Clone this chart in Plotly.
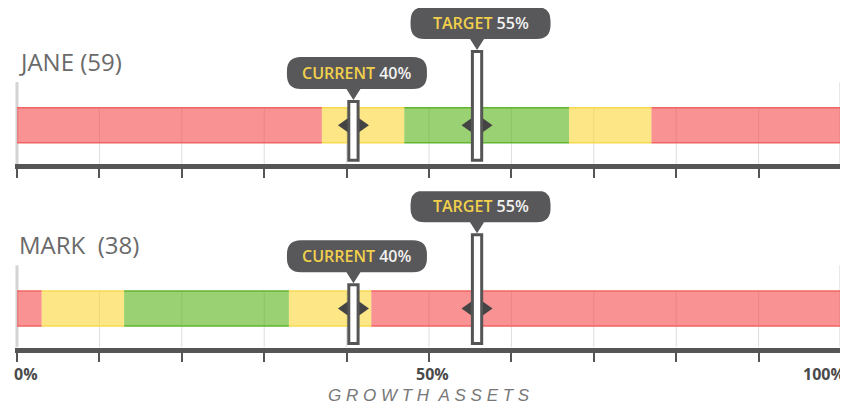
import plotly.graph_objects as go

# ---------------- data ----------------
people = ["JANE (59)", "MARK\u00a0\u00a0(38)"]
jane_bounds = [0, 37, 47, 67, 77, 100]
jane_zones = ["red", "yellow", "green", "yellow", "red"]
mark_bounds = [0, 3, 13, 33, 43, 100]
mark_zones = ["red", "yellow", "green", "yellow", "red"]
zone_bounds = [jane_bounds, mark_bounds]
zone_kinds = [jane_zones, mark_zones]
current_values = [40, 40]
target_values = [55, 55]
grid_ticks = [0, 10, 20, 30, 40, 50, 60, 70, 80, 90, 100]
label_ticks = [0, 50, 100]
label_texts = ["0%", "50%", "100%"]
axis_title = "GROWTH ASSETS"

# ---------------- styles ----------------
OFF = 8                          # page body margin
W, H = 848 - OFF, 407 - OFF
ML, MR = 7, 5
PAD = 0.243                      # x-range padding (%)
PXX = (W - ML - MR) / (100 + 2 * PAD)   # px per %
BAR_C = 125.2                    # screen px of first bar centre
PANEL_BOTTOMS = [164.3 - OFF, 347.6 - OFF]
PANEL_H = PANEL_BOTTOMS[0]
Y_RANGE = [-(164.3 - BAR_C), BAR_C - OFF]
BAR_H = 35

fills = {"red": "rgba(245,73,73,0.6)", "yellow": "rgba(250,213,53,0.6)",
         "green": "rgba(87,178,22,0.6)"}
edges = {"red": "#f06464", "yellow": "#f8da50", "green": "#62b530"}
DARK = "#555555"
FONT = "Open Sans"


def dom(i):
    bot = PANEL_BOTTOMS[i]
    return [1 - bot / H, 1 - (bot - PANEL_H) / H]


def xs(v, dpx):
    return v + dpx / PXX


fig = go.Figure()
shapes = []
annotations = []

for i in range(2):
    xr = "x" if i == 0 else "x2"
    yr = "y" if i == 0 else "y2"
    b = zone_bounds[i]
    k = zone_kinds[i]
    for s in range(len(k)):
        fig.add_trace(go.Bar(
            y=[0], x=[b[s + 1] - b[s]], base=[b[s]], orientation="h",
            width=BAR_H, marker=dict(color=fills[k[s]], line=dict(width=0)),
            xaxis=xr, yaxis=yr, showlegend=False, hoverinfo="skip"))
        for yy in (BAR_H / 2, -BAR_H / 2):
            shapes.append(dict(type="line", xref=xr, yref=yr, x0=b[s], x1=b[s + 1],
                               y0=yy, y1=yy, line=dict(color=edges[k[s]], width=1.5),
                               layer="above"))
    for t in grid_ticks:
        if t in (0, 100):
            shapes.append(dict(type="line", xref=xr, yref=yr, x0=t, x1=t,
                               y0=Y_RANGE[0], y1=43.2,
                               line=dict(color="#d4d4d4", width=3), layer="below"))
        else:
            shapes.append(dict(type="line", xref=xr, yref=yr, x0=t, x1=t,
                               y0=Y_RANGE[0], y1=BAR_H / 2,
                               line=dict(color="#dddddd", width=1), layer="below"))
    annotations.append(dict(xref=xr, yref=yr, x=0, y=BAR_C - 61, xanchor="left",
                            yanchor="middle", text=people[i], showarrow=False,
                            font=dict(family=FONT, size=24, color="#6a6a6a")))
    for v, name, top_px in ((current_values[i], "CURRENT", 101.5),
                            (target_values[i], "TARGET", 51.5)):
        cx = v + 0.83
        ytop = BAR_C - top_px
        hw = 15.5 / PXX
        shapes.append(dict(type="path", xref=xr, yref=yr,
                           path=f"M {cx - hw},0 L {cx},11 L {cx + hw},0 L {cx},-11 Z",
                           fillcolor="#444444", line=dict(width=0), layer="above"))
        rw = 4.65 / PXX
        shapes.append(dict(type="rect", xref=xr, yref=yr, x0=cx - rw, x1=cx + rw,
                           y0=-35.0, y1=ytop, fillcolor="white",
                           line=dict(color=DARK, width=3), layer="above"))
        ytopo = ytop + 1.5
        y0 = ytopo + 11
        y1 = y0 + 32
        bc = xs(cx, 3.5)
        x0 = xs(bc, -70)
        x1 = xs(bc, 70)
        rx = 14 / PXX
        ry = 14
        pw = 7 / PXX
        p = (f"M {x0 + rx},{y0} L {cx - pw},{y0} L {cx},{ytopo} L {cx + pw},{y0} "
             f"L {x1 - rx},{y0} Q {x1},{y0} {x1},{y0 + ry} L {x1},{y1 - ry} "
             f"Q {x1},{y1} {x1 - rx},{y1} L {x0 + rx},{y1} Q {x0},{y1} {x0},{y1 - ry} "
             f"L {x0},{y0 + ry} Q {x0},{y0} {x0 + rx},{y0} Z")
        shapes.append(dict(type="path", xref=xr, yref=yr, path=p,
                           fillcolor="#58585a", line=dict(width=0), layer="above"))
        annotations.append(dict(xref=xr, yref=yr, x=bc, y=(y0 + y1) / 2,
                                text=f"<span style='color:#f2d04b'>{name}</span> {v}%",
                                showarrow=False, xanchor="center", yanchor="middle",
                                font=dict(family=FONT, size=16, color="#f2f2f2",
                                          weight=600)))

anchors = {0: ("left", -5), 50: ("center", 3), 100: ("right", 6)}
for t, txt in zip(label_ticks, label_texts):
    a, sh = anchors[t]
    annotations.append(dict(xref="x2", yref="paper", x=t, y=1 - (374 - OFF) / H,
                            text=txt, showarrow=False, xanchor=a, yanchor="middle",
                            xshift=sh,
                            font=dict(family=FONT, size=16, color="#4a4a4a", weight=700)))

spaced = "\u00a0\u00a0".join("\u00a0".join(w) for w in axis_title.split(" "))
annotations.append(dict(xref="x2", yref="paper", x=50, y=1 - (395 - OFF) / H,
                        text=spaced, showarrow=False, xanchor="center", yanchor="middle",
                        font=dict(family="Liberation Sans", size=17, color="#777777",
                                  style="italic")))

xcommon = dict(range=[-PAD, 100 + PAD], showgrid=False, zeroline=False,
               showline=True, linecolor=DARK, linewidth=5, ticks="outside",
               ticklen=9, tickwidth=2, tickcolor=DARK, tickvals=grid_ticks,
               showticklabels=False, fixedrange=True)
ycommon = dict(range=Y_RANGE, visible=False, fixedrange=True)

fig.update_layout(
    width=W, height=H, margin=dict(l=ML, r=MR, t=0, b=0),
    paper_bgcolor="white", plot_bgcolor="rgba(0,0,0,0)",
    barmode="overlay", hovermode=False, showlegend=False,
    xaxis=dict(**xcommon, anchor="y"),
    yaxis=dict(**ycommon, domain=dom(0), anchor="x"),
    xaxis2=dict(**xcommon, anchor="y2"),
    yaxis2=dict(**ycommon, domain=dom(1), anchor="x2"),
    shapes=shapes, annotations=annotations,
)

fig.write_html("out.html")
